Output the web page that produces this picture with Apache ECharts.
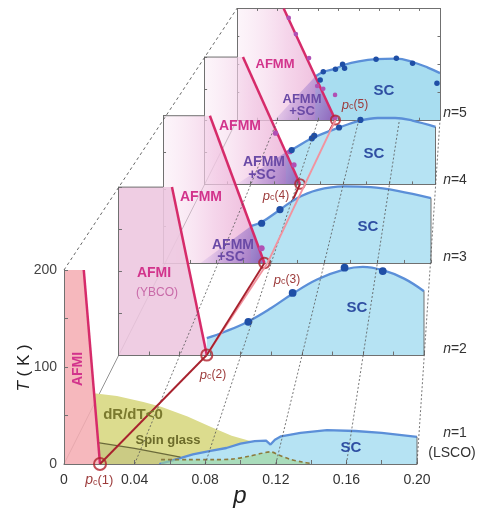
<!DOCTYPE html>
<html><head><meta charset="utf-8">
<script src="https://cdn.jsdelivr.net/npm/echarts@6.0.0/dist/echarts.min.js"></script>
<style>html,body{margin:0;padding:0;background:#fff;}#chart{width:478px;height:510px;}</style>
</head><body><div id="chart"></div>
<script>
// ================= DATA =================
const layerNames = ['1', '2', '3', '4', '5'];
const pTickLabels = [0, 0.04, 0.08, 0.12, 0.16, 0.20];
const tTickLabels = [0, 100, 200];
const perspTicks = [0.04, 0.08, 0.12, 0.16, 0.20];
const pcValues = [0.0204, 0.0578, 0.0757, 0.0827, 0.097];      // p_c(n)
const afmTopP = [0.0112, 0.035, 0.035, 0.0333, 0.046];         // AF boundary p at T=200
const pinkLine = [[1, 0.0578], [2, 0.078], [4, 0.097]];         // [layer index, p] at T=0
const purpleLeftP = [null, null, 0.028, 0.028, 0.037];          // AFMM+SC left foot

// n=1 (LSCO)
const lscoDRdT = [[0.017,73],[0.03,70],[0.045,64],[0.055,59],[0.07,49],[0.083,38.5],[0.095,29],[0.104,24.5],[0.11,22]];
const lscoSpinGlass = [[0.0192,22],[0.04,16],[0.066,7]];
const lscoCO = [[0.055,4.5],[0.07,4.5],[0.085,4.5],[0.095,5],[0.105,8],[0.112,11],[0.117,12.5],[0.122,9],[0.128,5],[0.135,2],[0.14,0.5]];
const lscoSC = [[0.054,0],[0.062,4],[0.073,10],[0.083,13.5],[0.092,16.5],[0.1,21],[0.108,23.5],[0.1145,24],[0.117,20],[0.1195,25],[0.123,28.5],[0.134,32],[0.149,35],[0.165,34],[0.18,32],[0.2,28]];
// n=2 (YBCO)
const ybcoSC = [[0.0578,20],[0.07,28],[0.085,40],[0.1,56],[0.114,73],[0.13,90],[0.148,102],[0.16,105],[0.173,101],[0.187,91],[0.2,76]];
const ybcoDots = [[0.085,39.5],[0.114,74],[0.148,104],[0.173,100]];
// n=3
const n3SC = [[0.0655,50],[0.074,56],[0.087,72],[0.1,88],[0.115,99],[0.135,104],[0.155,103],[0.175,98],[0.2,88]];
const n3Dots = [[0.0736,54],[0.0873,72.6]];
const n3AfDots = [[0.0736,20]];
// n=4
const n4SC = [[0.0704,50],[0.0755,54],[0.093,72],[0.1165,89],[0.135,100],[0.15,104],[0.165,104],[0.18,100],[0.2,90]];
const n4Dots = [[0.0755,53.5],[0.093,72],[0.095,76],[0.1165,89],[0.135,101]];
const n4AfDots = [[0.0615,80],[0.074,51],[0.0775,30]];
// n=5
const n5SC = [[0.0771,78],[0.085,86],[0.097,92],[0.106,99],[0.12,105],[0.137,109],[0.157,110],[0.173,104],[0.188,94],[0.2,84]];
const n5Dots = [[0.085,86.6],[0.082,71.7],[0.097,91],[0.104,100],[0.106,92.7],[0.137,109],[0.157,110.6],[0.173,101.7],[0.197,65.8]];
const n5AfDots = [[0.051,183],[0.058,154],[0.071,111],[0.079,61],[0.085,56],[0.0966,45],[0.097,4]];

// ================= LAYOUT / STYLE =================
const bases = [464, 355, 263, 184, 120];
const lefts = [64, 118.5, 163, 204.5, 237];
const widths = [353, 305.5, 268, 231, 203];
const S = widths.map(w => w / 353);
const rects = bases.map((b, i) => ({left: lefts[i], top: b - 194 * S[i], width: widths[i], height: 194 * S[i]}));
const zB = [500, 400, 300, 200, 100];
const FONT = '"Liberation Sans", Arial, sans-serif';
const AX = '#707070';
const SCLINE = '#5b8fd8', SCFILL = '#b6e3f3', BLUE = '#1f4fa6', MAG = '#b050b4', AFL = '#d62b6a';

const chart = echarts.init(document.getElementById('chart'), null, {renderer: 'canvas', width: 478, height: 510});

const grid = rects.map(r => ({left: r.left, top: r.top, width: r.width, height: r.height, containLabel: false, outerBoundsMode: 'none'}));
const xAxis = [], yAxis = [];
for (let i = 0; i < 5; i++) {
  xAxis.push({
    type: 'value', gridIndex: i, min: 0, max: 0.2, interval: 0.02, z: zB[i] + 8,
    axisLine: {show: true, onZero: false, lineStyle: {color: AX, width: 1}},
    axisTick: {show: true, inside: true, length: 4 * S[i], lineStyle: {color: AX}},
    splitLine: {show: false},
    axisLabel: i === 0 ? {
      show: true, margin: 9, fontSize: 14, fontFamily: FONT, color: '#333',
      formatter: v => {
        const k = Math.round(v * 100);
        if (k === 2) return '{i|p}{s|c}{n|(1)}';
        const hit = pTickLabels.find(t => Math.abs(t - v) < 1e-6);
        if (hit === undefined) return '';
        return hit === 0 ? '0' : hit.toFixed(2);
      },
      rich: {
        i: {fontStyle: 'italic', fontSize: 14, color: '#9c3a3a', fontFamily: FONT},
        s: {fontSize: 9, color: '#9c3a3a', verticalAlign: 'bottom', fontFamily: FONT},
        n: {fontSize: 13, color: '#9c3a3a', fontFamily: FONT}
      }
    } : {show: false}
  });
  yAxis.push({
    type: 'value', gridIndex: i, min: 0, max: 200, interval: 50, z: zB[i] + 8,
    axisLine: {show: true, onZero: false, lineStyle: {color: AX, width: 1}},
    axisTick: {show: true, inside: true, length: 4 * S[i], lineStyle: {color: AX}},
    splitLine: {show: false},
    axisLabel: i === 0 ? {
      show: true, margin: 7, fontSize: 14, fontFamily: FONT, color: '#444',
      formatter: v => (tTickLabels.indexOf(v) >= 0 ? String(v) : '')
    } : {show: false}
  });
}
// full frame for the back layer (n=5)
xAxis.push({type: 'value', gridIndex: 4, position: 'top', min: 0, max: 0.2, interval: 0.02, z: zB[4] + 8,
  axisLine: {show: true, onZero: false, lineStyle: {color: AX}}, axisTick: {show: true, inside: true, length: 2.5, lineStyle: {color: AX}},
  axisLabel: {show: false}, splitLine: {show: false}});
yAxis.push({type: 'value', gridIndex: 4, position: 'right', min: 0, max: 200, interval: 50, z: zB[4] + 8,
  axisLine: {show: true, onZero: false, lineStyle: {color: AX}}, axisTick: {show: true, inside: true, length: 2.5, lineStyle: {color: AX}},
  axisLabel: {show: false}, splitLine: {show: false}});

const series = [];
function poly(i, pts, fill, zo) {
  series.push({type: 'custom', coordinateSystem: 'cartesian2d', xAxisIndex: i, yAxisIndex: i, z: zB[i] + zo,
    silent: true, clip: false, data: [[0, 0]],
    renderItem: (params, api) => ({type: 'polygon', shape: {points: pts.map(d => api.coord(d))}, style: {fill: fill}})});
}
function curve(i, pts, o) {
  series.push(Object.assign({type: 'line', xAxisIndex: i, yAxisIndex: i, data: pts, symbol: 'none', showSymbol: false,
    silent: true, animation: false}, o, {z: zB[i] + (o.zo || 0)}));
}
function dots(i, pts, color, size, zo) {
  series.push({type: 'scatter', xAxisIndex: i, yAxisIndex: i, data: pts, symbolSize: size, silent: true,
    itemStyle: {color: color, opacity: 1}, z: zB[i] + zo});
}
function pcCircle(i) {
  series.push({type: 'scatter', xAxisIndex: i, yAxisIndex: i, data: [[pcValues[i], 0]], symbolSize: 12 * Math.sqrt(S[i]),
    silent: true, clip: false, itemStyle: {color: 'rgba(255,255,255,0)', borderColor: '#b0202c', borderWidth: 2}, z: zB[i] + 12});
}
const lg = (x2, y2, stops) => new echarts.graphic.LinearGradient(0, 0, x2, y2, stops.map((c, k) => ({offset: k / (stops.length - 1), color: c})));

// ---- n=1 LSCO ----
poly(0, [[0, 200], [afmTopP[0], 200], [pcValues[0], 0], [0, 0]], 'rgba(245,172,178,0.85)', 1);
poly(0, lscoDRdT.concat([[lscoDRdT[lscoDRdT.length - 1][0], 0], [pcValues[0], 0]]), '#dcdc8e', 1);
poly(0, lscoSpinGlass.concat([[lscoSpinGlass[lscoSpinGlass.length - 1][0], 0], [pcValues[0], 0]]), '#cbcb84', 2);
curve(0, lscoSC, {lineStyle: {color: SCLINE, width: 2.3}, areaStyle: {color: SCFILL, opacity: 1}, zo: 3});
curve(0, lscoCO, {smooth: 0.3, lineStyle: {color: '#8c7a3c', width: 1.6, type: [4, 3]}, areaStyle: {color: 'rgba(160,215,150,0.6)', opacity: 1}, zo: 4});
curve(0, lscoSpinGlass, {lineStyle: {color: '#6b6a3a', width: 1.3}, zo: 4});
curve(0, [[afmTopP[0], 200], [pcValues[0], 0]], {lineStyle: {color: AFL, width: 2.5}, zo: 10});
pcCircle(0);

// ---- n=2 YBCO ----
poly(1, [[0, 200], [afmTopP[1], 200], [pcValues[1], 0], [0, 0]], 'rgba(237,198,223,0.88)', 1);
curve(1, ybcoSC, {smooth: 0.4, lineStyle: {color: SCLINE, width: 2.3}, areaStyle: {color: SCFILL, opacity: 1}, zo: 3});
curve(1, [[afmTopP[1], 200], [pcValues[1], 0]], {lineStyle: {color: AFL, width: 2.5}, zo: 10});
dots(1, ybcoDots, BLUE, 9 * S[1], 11);
pcCircle(1);

// ---- n=3..5 multilayer ----
const mlSC = [null, null, n3SC, n4SC, n5SC];
const mlDots = [null, null, n3Dots, n4Dots, n5Dots];
const mlAf = [null, null, n3AfDots, n4AfDots, n5AfDots];
for (let i = 2; i < 5; i++) {
  poly(i, [[0, 200], [afmTopP[i], 200], [pcValues[i], 0], [0, 0]],
    lg(1, 0, ['rgba(248,228,242,0.35)', 'rgba(242,200,228,0.75)', 'rgba(234,170,210,0.9)']), 1);
  curve(i, mlSC[i], {smooth: 0.4, lineStyle: {color: SCLINE, width: 2.3}, areaStyle: {color: i === 4 ? '#a8ddf0' : SCFILL, opacity: 1}, zo: 3});
  poly(i, [[purpleLeftP[i], 0], mlSC[i][0], [pcValues[i], 0]],
    lg(1, 0.6, ['rgba(205,175,228,0)', 'rgba(175,140,210,0.6)', 'rgba(146,106,190,0.95)']), 4);
  curve(i, [[afmTopP[i], 200], [pcValues[i], 0]], {lineStyle: {color: AFL, width: 2.5}, zo: 10});
  dots(i, mlAf[i], MAG, 8 * S[i], 11);
  dots(i, mlDots[i], BLUE, 9.5 * S[i], 11);
  pcCircle(i);
}

chart.setOption({animation: false, backgroundColor: '#fff', grid, xAxis, yAxis, series});

// ================= cross-layer drawing =================
const P = (i, p, T) => chart.convertToPixel({gridIndex: i}, [p, T]);
const g = [];
function seg(a, b, stroke, w, z, dash) {
  const st = {stroke: stroke, lineWidth: w};
  if (dash) st.lineDash = dash;
  g.push({type: 'line', silent: true, z: z, shape: {x1: a[0], y1: a[1], x2: b[0], y2: b[1]}, style: st});
}
// perspective guides
seg(P(0, 0, 0), P(4, 0, 0), '#777', 0.8, 5);
seg(P(0, 0, 200), P(4, 0, 200), '#555', 0.9, 900, [3, 3]);
perspTicks.forEach(p => seg(P(0, p, 0), P(4, p, 0), '#555', 0.8, 900, [2, 2]));
// partial top edges (n=2..4) and right edges
for (let i = 1; i < 4; i++) {
  const a = P(i, 0, 200), nx = P(i + 1, 0, 0)[0];
  seg(a, [nx, a[1]], AX, 1, zB[i] + 8);
}
const lastT = [lscoSC, ybcoSC, n3SC, n4SC].map(a => a[a.length - 1][1]);
for (let i = 0; i < 4; i++) seg(P(i, 0.2, 0), P(i, 0.2, lastT[i]), AX, 1, zB[i] + 8);
// p_c connecting line
const pcPix = pcValues.map((p, i) => P(i, p, 0));
seg(pcPix[0], pcPix[1], '#a8222e', 1.9, 920);
seg(pcPix[1], pcPix[2], '#a8222e', 1.9, 920);
seg(pcPix[2], pcPix[3], '#a8222e', 1.9, 250);
seg(pcPix[3], pcPix[4], '#a8222e', 1.9, 150);
for (let k = 0; k < pinkLine.length - 1; k++) {
  seg(P(pinkLine[k][0], pinkLine[k][1], 0), P(pinkLine[k + 1][0], pinkLine[k + 1][1], 0), '#f2939f', 1.8, 915);
}

// ================= text =================
function txt(x, y, text, style, rot) {
  g.push({type: 'text', x: x, y: y, rotation: rot || 0, z: 950, silent: true,
    style: Object.assign({text: text, align: 'center', verticalAlign: 'middle', fontFamily: FONT, fontSize: 14, fontWeight: 'bold', fill: '#333'}, style || {})});
}
const MAGT = '#d2348c', PURT = '#6a4aa6', SCT = '#2f4fa2', OLV = '#7a792e', PCT = '#9c3a3a';
const pcRich = {
  p: {fontStyle: 'italic', fontSize: 13, fill: PCT, fontFamily: FONT},
  c: {fontSize: 9, fill: PCT, verticalAlign: 'bottom', fontFamily: FONT},
  n: {fontSize: 12, fill: PCT, fontFamily: FONT}
};
// n=1
txt(78, 369, 'AFMI', {fill: MAGT}, Math.PI / 2);
txt(133, 415, 'dR/dT<0', {fill: OLV, fontSize: 15});
txt(168, 440, 'Spin glass', {fill: '#6c6b2a', fontSize: 13});
txt(351, 448, 'SC', {fill: SCT, fontSize: 15});
// n=2
txt(154, 273, 'AFMI', {fill: MAGT, fontSize: 14});
txt(157, 293, '(YBCO)', {fill: '#c86aa8', fontSize: 12, fontWeight: 'normal'});
txt(357, 308, 'SC', {fill: SCT, fontSize: 15});
// n=3
txt(201, 197, 'AFMM', {fill: MAGT, fontSize: 14});
txt(233, 245, 'AFMM', {fill: PURT, fontSize: 14});
txt(231, 257, '+SC', {fill: PURT, fontSize: 14});
txt(368, 227, 'SC', {fill: SCT, fontSize: 15});
// n=4
txt(240, 126, 'AFMM', {fill: MAGT, fontSize: 14});
txt(264, 162, 'AFMM', {fill: PURT, fontSize: 14});
txt(262, 175, '+SC', {fill: PURT, fontSize: 14});
txt(374, 154, 'SC', {fill: SCT, fontSize: 15});
// n=5
txt(275, 64, 'AFMM', {fill: MAGT, fontSize: 13});
txt(302, 99, 'AFMM', {fill: PURT, fontSize: 13});
txt(302, 111, '+SC', {fill: PURT, fontSize: 13});
txt(384, 91, 'SC', {fill: SCT, fontSize: 15});
// p_c labels
txt(213, 375, '{p|p}{c|c}{n|(2)}', {rich: pcRich});
txt(287, 280, '{p|p}{c|c}{n|(3)}', {rich: pcRich});
txt(276, 196, '{p|p}{c|c}{n|(4)}', {rich: pcRich});
txt(355, 105, '{p|p}{c|c}{n|(5)}', {rich: pcRich});
// layer labels
const nRich = {i: {fontStyle: 'italic', fontSize: 14, fill: '#333', fontFamily: FONT}, r: {fontSize: 14, fill: '#333', fontFamily: FONT}};
const nY = [433, 349, 257, 180, 113];
layerNames.forEach((nm, i) => txt(455, nY[i], '{i|n}{r|=' + nm + '}', {rich: nRich, fontWeight: 'normal'}));
txt(452, 453, '(LSCO)', {fill: '#333', fontWeight: 'normal', fontSize: 14});
// axis names
txt(240, 496, 'p', {fontStyle: 'italic', fontWeight: 'normal', fontSize: 24, fill: '#222'});
txt(24, 368, '{t|T} ( K )', {fontWeight: 'normal', fontSize: 17, fill: '#222',
  rich: {t: {fontStyle: 'italic', fontSize: 17, fill: '#222', fontFamily: FONT}}}, Math.PI / 2);

chart.setOption({graphic: {elements: g}});
</script>
</body></html>
